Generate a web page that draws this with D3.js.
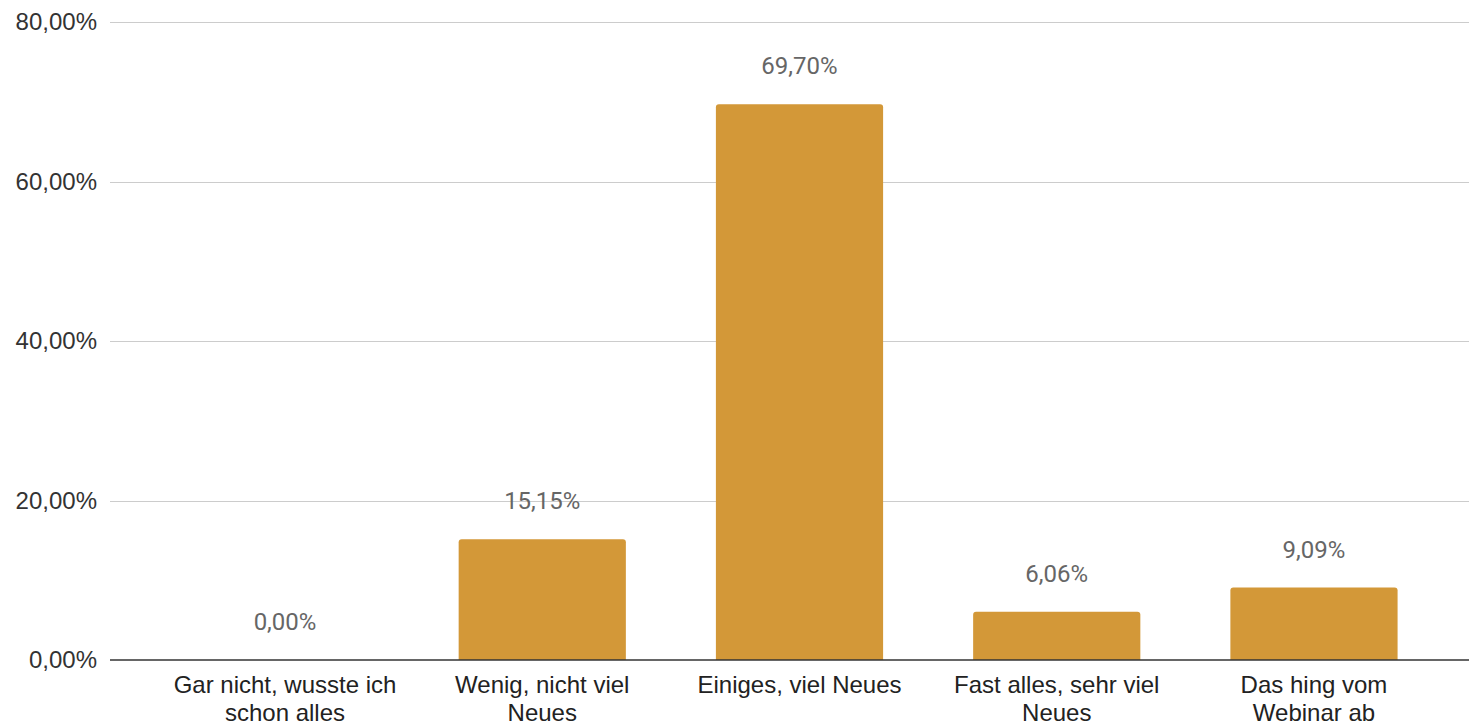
<!DOCTYPE html>
<html>
<head>
<meta charset="utf-8">
<script src="https://cdn.jsdelivr.net/npm/d3@7"></script>
<style>
  html, body { margin: 0; padding: 0; background: #fff; }
  svg { display: block; }
</style>
</head>
<body>
<svg id="chart" width="1469" height="728"></svg>
<script>
const categories = [
  "Gar nicht, wusste ich schon alles",
  "Wenig, nicht viel Neues",
  "Einiges, viel Neues",
  "Fast alles, sehr viel Neues",
  "Das hing vom Webinar ab"
];
const values = [0.0, 0.1515, 0.6970, 0.0606, 0.0909];
const yTicks = [0, 0.2, 0.4, 0.6, 0.8];

const W = 1469, H = 728;
const svg = d3.select("#chart");
const fmt = v => (v * 100).toFixed(2).replace(".", ",") + "%";

const x = d3.scaleBand().domain(categories).range([156.4, 1442.6]).paddingInner(0.35).paddingOuter(0.175);
const y = d3.scaleLinear().domain([0, 0.8]).range([660, 22]);

// gridlines
svg.append("g").selectAll("line").data(yTicks.filter(d => d > 0)).join("line")
  .attr("x1", 110).attr("x2", W)
  .attr("y1", d => Math.round(y(d)) + 0.5).attr("y2", d => Math.round(y(d)) + 0.5)
  .attr("stroke", "#cccccc").attr("stroke-width", 1);

// y labels
svg.append("g").selectAll("text").data(yTicks).join("text")
  .attr("x", 97).attr("y", d => y(d)).attr("dy", "0.35em")
  .attr("text-anchor", "end")
  .attr("font-family", "'Liberation Sans', Arial, sans-serif")
  .attr("font-size", 24).attr("fill", "#333")
  .text(d => fmt(d));

// bars with rounded top corners
const r = 3;
svg.append("g").selectAll("path").data(values.map((v, i) => ({v, c: categories[i]}))).join("path")
  .filter(d => d.v > 0)
  .attr("d", d => {
    const x0 = x(d.c), x1 = x0 + x.bandwidth(), yt = y(d.v), yb = y(0);
    return `M${x0},${yb}V${yt + r}Q${x0},${yt} ${x0 + r},${yt}H${x1 - r}Q${x1},${yt} ${x1},${yt + r}V${yb}Z`;
  })
  .attr("fill", "#d39838");

// zero line
svg.append("line").attr("x1", 110).attr("x2", W)
  .attr("y1", y(0)).attr("y2", y(0))
  .attr("stroke", "#333").attr("stroke-width", 1.5);

// data labels
svg.append("g").selectAll("text").data(values.map((v, i) => ({v, c: categories[i]}))).join("text")
  .attr("x", d => x(d.c) + x.bandwidth() / 2)
  .attr("y", d => y(d.v) - 30)
  .attr("text-anchor", "middle")
  .attr("font-family", "Roboto, sans-serif")
  .attr("font-size", 24).attr("fill", "#666")
  .text(d => fmt(d.v));

// x labels with wrapping
const maxW = 232;
const xl = svg.append("g").selectAll("text").data(categories).join("text")
  .attr("x", d => x(d) + x.bandwidth() / 2)
  .attr("y", 693)
  .attr("text-anchor", "middle")
  .attr("font-family", "'Liberation Sans', Arial, sans-serif")
  .attr("font-size", 24).attr("fill", "#222");
xl.each(function(d) {
  const t = d3.select(this);
  const cx = +t.attr("x");
  const words = d.split(" ");
  let line = [];
  let ts = t.append("tspan").attr("x", cx).attr("dy", 0);
  for (const w of words) {
    line.push(w);
    ts.text(line.join(" "));
    if (ts.node().getComputedTextLength() > maxW && line.length > 1) {
      line.pop();
      ts.text(line.join(" "));
      line = [w];
      ts = t.append("tspan").attr("x", cx).attr("dy", 28).text(w);
    }
  }
});
</script>
</body>
</html>
